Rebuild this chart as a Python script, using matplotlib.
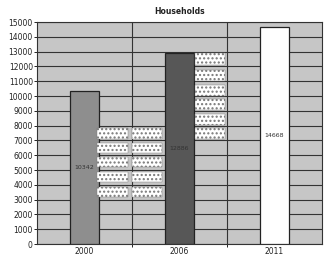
import matplotlib
matplotlib.use("Agg")
import matplotlib.pyplot as plt
from matplotlib.patches import Rectangle

categories = ["2000", "2006", "2011"]
values = [10342, 12886, 14668]
colors = ["#8e8e8e", "#575757", "#ffffff"]
yticks = list(range(0, 15001, 1000))

W, H = 325, 259
fig = plt.figure(figsize=(W / 100, H / 100), dpi=100)
fig.patch.set_facecolor("white")
ax = fig.add_axes([37 / W, 1 - 244 / H, 285 / W, 222 / H])
ax.set_facecolor("#c6c6c6")

x = [i + 0.5 for i in range(len(categories))]
bars = ax.bar(x, values, width=0.3, color=colors, edgecolor="#222222", linewidth=0.9, zorder=3)
for xi, v in zip(x, values):
    ax.text(xi, v / 2, str(v), ha="center", va="center", fontsize=4.5, color="#333333", zorder=4)

ax.set_xlim(0, 3)
ax.set_ylim(0, 15000)
ax.set_yticks(yticks)
ax.set_yticklabels([str(t) for t in yticks], fontsize=5.5, color="#222222")
ax.set_xticks(x)
ax.set_xticklabels(categories, fontsize=5.5, color="#222222")
ax.set_xticks([1, 2], minor=True)
ax.tick_params(axis="x", which="major", length=0, pad=2)
ax.tick_params(axis="y", length=2, width=0.6, pad=1)
ax.grid(axis="y", color="#333333", linewidth=0.8, zorder=1)
ax.grid(axis="x", which="minor", color="#333333", linewidth=0.8, zorder=1)
for s in ax.spines.values():
    s.set_color("#333333")
    s.set_linewidth(0.8)

ax.set_title("Households", fontsize=5.5, fontweight="bold", pad=6, color="#222222")

# redaction boxes (as in the reference image)
def box(x0, y0, x1, y1):
    fig.patches.append(Rectangle((x0 / W, 1 - y1 / H), (x1 - x0) / W, (y1 - y0) / H,
                                 transform=fig.transFigure, facecolor="white",
                                 edgecolor="#777777", hatch="....", linewidth=0.3, zorder=10))

for (a, b) in [(128, 139), (143, 153), (157, 167), (172, 182), (187, 197)]:
    box(97, a, 128, b)
    box(132, a, 162, b)
for (a, b) in [(53, 65), (70, 81), (85, 96), (99, 110), (114, 125), (128, 139)]:
    box(195, a, 225, b)

fig.savefig("out.png", dpi=100)
